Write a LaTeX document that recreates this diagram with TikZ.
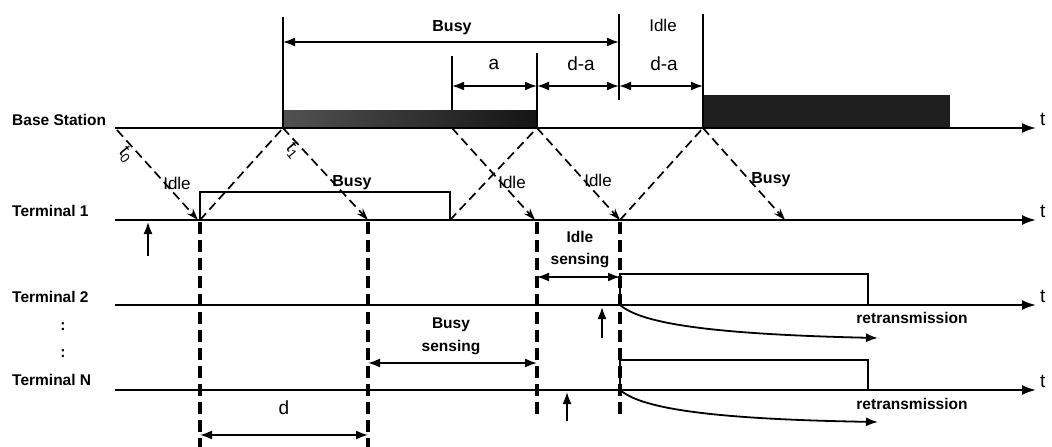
\documentclass[tikz,border=0pt]{standalone}
\usepackage{fontspec}
\setmainfont{Liberation Sans}
\usetikzlibrary{arrows.meta}
\begin{document}
\begin{tikzpicture}[x=1pt,y=-1pt,
  axis/.style={line width=2pt,-{Latex[length=14pt,width=10pt]}},
  thin/.style={line width=1.6pt},
  dim/.style={line width=1.8pt,{Latex[length=12pt,width=9pt]}-{Latex[length=12pt,width=9pt]}},
  upar/.style={line width=1.8pt,-{Latex[length=12pt,width=9pt]}},
  sig/.style={line width=1.7pt,dash pattern=on 9pt off 5pt},
  sigar/.style={sig,-{Stealth[length=12pt,width=8pt]}},
  vdash/.style={line width=3.5pt,dash pattern=on 12pt off 6pt},
  lab/.style={font=\bfseries\fontsize{15.5}{18}\selectfont,inner sep=0pt},
  big/.style={font=\fontsize{19}{21}\selectfont,inner sep=0pt},
  small/.style={font=\fontsize{17}{19}\selectfont,inner sep=0pt},
  bsmall/.style={font=\bfseries\fontsize{16}{18}\selectfont,inner sep=0pt},
  tl/.style={font=\fontsize{19}{21}\selectfont,inner sep=0pt,anchor=base west}]
\useasboundingbox (0,0) rectangle (1052,447);
% axes coordinates
\coordinate (b0) at (115,128); \coordinate (b1) at (1036,128);
\coordinate (t10) at (115,220); \coordinate (t11) at (1036,220);
\coordinate (t20) at (115,305); \coordinate (t21) at (1036,305);
\coordinate (tn0) at (115,390); \coordinate (tn1) at (1036,390);
% base station blocks
\shade[left color=black!68,right color=black!92] (283,110) rectangle (537,128);
\fill[black!88] (703,95) rectangle (950,128);
\draw[axis] (b0) -- (b1);
\draw[axis] (t10) -- (t11);
\draw[axis] (t20) -- (t21);
\draw[axis] (tn0) -- (tn1);
% base verticals
\coordinate (vA0) at (283,17); \coordinate (vA1) at (283,128);
\coordinate (vB0) at (452,56); \coordinate (vB1) at (452,110);
\coordinate (vC0) at (537,53); \coordinate (vC1) at (537,128);
\coordinate (vD0) at (619,14); \coordinate (vD1) at (619,100);
\coordinate (vE0) at (703,14); \coordinate (vE1) at (703,128);
\draw[thin] (vA0) -- (vA1);
\draw[thin] (vB0) -- (vB1);
\draw[thin] (vC0) -- (vC1);
\draw[thin] (vD0) -- (vD1);
\draw[thin] (vE0) -- (vE1);
% dimension arrows at top
\coordinate (busyL) at (283,42); \coordinate (busyR) at (619,42);
\coordinate (aL) at (452,86); \coordinate (aR) at (537,86);
\coordinate (da1R) at (619,86); \coordinate (da2R) at (703,86);
\draw[dim] (busyL) -- (busyR);
\draw[dim] (aL) -- (aR);
\draw[dim] (aR) -- (da1R);
\draw[dim] (da1R) -- (da2R);
\node[bsmall] (lbusy) at (452,28) {Busy};
\node[big] (la) at (494,64) {a};
\node[big] (lda1) at (581,64) {d-a};
\node[small] (lidle) at (663,25) {Idle};
\node[big] (lda2) at (664,64) {d-a};
% terminal 1 pulse
\coordinate (p1a) at (200,220); \coordinate (p1b) at (450,220);
\draw[thin] (p1a) -- (200,192) -- (450,192) -- (p1b);
% signal propagation lines
\coordinate (s0) at (117,130); \coordinate (s0e) at (198,220);
\coordinate (s1) at (283,128); \coordinate (s1e) at (368,220);
\coordinate (s2) at (452,128); \coordinate (s2e) at (535,220);
\coordinate (s3) at (537,128); \coordinate (s3e) at (620,220);
\coordinate (s4) at (703,128); \coordinate (s4e) at (785,220);
\draw[sigar] (s0) -- (s0e);
\draw[sig] (p1a) -- (s1);
\draw[sigar] (s1) -- (s1e);
\draw[sig] (p1b) -- (s3);
\draw[sigar] (s2) -- (s2e);
\draw[sigar] (s3) -- (s3e);
\draw[sig] (s3e) -- (s4);
\draw[sigar] (s4) -- (s4e);
\node[big,rotate=-50] (lt0) at (126,155) {t\textsubscript{0}};
\node[big,rotate=-50] (lt1) at (293,151) {t\textsubscript{1}};
\node[small] (li1) at (177,183) {Idle};
\node[bsmall] (lb1) at (352,183) {Busy};
\node[small] (li2) at (512,182) {Idle};
\node[small] (li3) at (598,180) {Idle};
\node[bsmall] (lb2) at (771,180) {Busy};
% thick dashed verticals
\coordinate (d1a) at (200,222); \coordinate (d1b) at (200,447);
\coordinate (d2a) at (368,222); \coordinate (d2b) at (368,447);
\coordinate (d3a) at (537,222); \coordinate (d3b) at (537,418);
\coordinate (d4a) at (620,222); \coordinate (d4b) at (620,418);
\draw[vdash] (d1a) -- (d1b);
\draw[vdash] (d2a) -- (d2b);
\draw[vdash] (d3a) -- (d3b);
\draw[vdash] (d4a) -- (d4b);
% sensing arrows
\coordinate (dl) at (200,435); \coordinate (dr) at (368,435);
\draw[dim] (dl) -- (dr);
\node[big] (ld) at (284,408) {d};
\coordinate (bsl) at (368,363); \coordinate (bsr) at (537,363);
\draw[dim] (bsl) -- (bsr);
\node[lab] (lbs1) at (451,325) {Busy};
\node[lab] (lbs2) at (451,348) {sensing};
\coordinate (isl) at (537,277); \coordinate (isr) at (620,277);
\draw[dim] (isl) -- (isr);
\node[lab] (lis1) at (580,237) {Idle};
\node[lab] (lis2) at (580,261) {sensing};
% terminal 2 and N pulses
\coordinate (p2a) at (620,305); \coordinate (p2b) at (868,305);
\draw[thin] (p2a) -- (620,274) -- (868,274) -- (p2b);
\coordinate (pna) at (620,390); \coordinate (pnb) at (868,390);
\draw[thin] (pna) -- (620,360) -- (868,360) -- (pnb);
% retransmission curves
\coordinate (r2) at (878,338); \coordinate (rn) at (878,422);
\draw[upar] (p2a) .. controls (640,322) and (700,334) .. (r2);
\draw[upar] (pna) .. controls (640,407) and (700,419) .. (rn);
\node[lab] (lr2) at (912,318) {retransmission};
\node[lab] (lrn) at (912,404) {retransmission};
% up arrows
\coordinate (u1a) at (148,256); \coordinate (u1b) at (148,222);
\coordinate (u2a) at (602,338); \coordinate (u2b) at (602,307);
\coordinate (una) at (567,421); \coordinate (unb) at (567,392);
\draw[upar] (u1a) -- (u1b);
\draw[upar] (u2a) -- (u2b);
\draw[upar] (una) -- (unb);
% row labels
\node[lab,anchor=west] (nbs) at (12,120) {Base Station};
\node[lab,anchor=west] (nt1) at (12,211) {Terminal 1};
\node[lab,anchor=west] (nt2) at (12,297) {Terminal 2};
\node[lab] (dot1) at (63,327) {:};
\node[lab] (dot2) at (63,354) {:};
\node[lab,anchor=west] (ntn) at (12,380) {Terminal N};
% t labels
\node[tl] (tb) at (1040,125) {t};
\node[tl] (tt1) at (1040,217) {t};
\node[tl] (tt2) at (1040,302) {t};
\node[tl] (ttn) at (1040,387) {t};
\end{tikzpicture}
\end{document}
